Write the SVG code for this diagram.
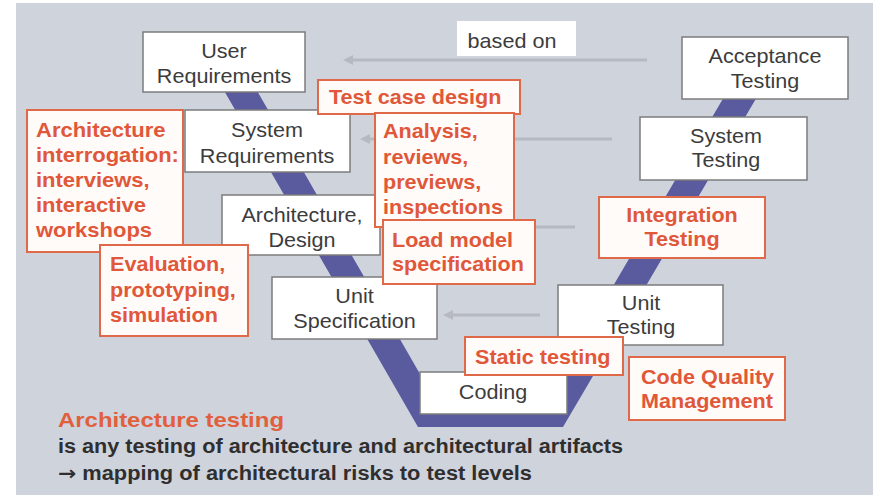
<svg xmlns="http://www.w3.org/2000/svg" width="873" height="495" viewBox="0 0 873 495">
<style>
.node rect{fill:#ffffff;stroke:#7c7c7c;stroke-width:1.5}
.note rect{fill:#fffbf8;stroke:#e0694a;stroke-width:2}
.n{font-family:"Liberation Sans",Arial,sans-serif;font-size:20px;fill:#3c3c3c;text-anchor:middle}
.a{font-family:"Liberation Sans",Arial,sans-serif;font-size:20px;font-weight:bold;fill:#e0573a}
.ac{text-anchor:middle}
.t{font-family:"Liberation Sans",Arial,sans-serif;font-weight:bold}
.conn path{fill:none;stroke:#b6b9c2;stroke-width:3}
</style>
<defs>
<marker id="arr" viewBox="0 0 10 10" refX="2" refY="5" markerWidth="10" markerHeight="10" markerUnits="userSpaceOnUse" orient="auto">
<path d="M0,0 L10,5 L0,10 z" fill="#b6b9c2"/>
</marker>
</defs>
<rect x="0" y="0" width="873" height="495" fill="#ffffff"/>
<rect x="16" y="3" width="857" height="492" fill="#cfd3dc"/>
<polygon id="v-band" points="215,75 248,75 443,414 538,414 731,85 764,85 563,427 418,427" fill="#5a5a9e"/>
<g id="connectors" class="conn">
<path d="M647,60 H351" marker-end="url(#arr)"/>
<path d="M612,139 H368" marker-end="url(#arr)"/>
<path d="M575,227 H392" marker-end="url(#arr)"/>
<path d="M540,315 H451" marker-end="url(#arr)"/>
</g>
<g id="based-on">
<rect x="457" y="21" width="119" height="35" fill="#ffffff"/>
<text class="n" transform="matrix(1.08 0 0 1 512 0)"><tspan x="0" y="48">based on</tspan></text>
</g>
<g id="user-requirements" class="node">
<rect x="143" y="32" width="162" height="60"/>
<text class="n" transform="matrix(1.08 0 0 1 224 0)"><tspan x="0" y="58">User</tspan><tspan x="0" y="83">Requirements</tspan></text>
</g>
<g id="system-requirements" class="node">
<rect x="185" y="110" width="165" height="62"/>
<text class="n" transform="matrix(1.08 0 0 1 267 0)"><tspan x="0" y="137">System</tspan><tspan x="0" y="163">Requirements</tspan></text>
</g>
<g id="architecture-design" class="node">
<rect x="222" y="195" width="158" height="60"/>
<text class="n" transform="matrix(1.08 0 0 1 302 0)"><tspan x="0" y="222">Architecture,</tspan><tspan x="0" y="247">Design</tspan></text>
</g>
<g id="unit-specification" class="node">
<rect x="272" y="277" width="165" height="62"/>
<text class="n" transform="matrix(1.08 0 0 1 354.5 0)"><tspan x="0" y="303">Unit</tspan><tspan x="0" y="328">Specification</tspan></text>
</g>
<g id="coding" class="node">
<rect x="420" y="372" width="147" height="42"/>
<text class="n" transform="matrix(1.08 0 0 1 493 0)"><tspan x="0" y="399">Coding</tspan></text>
</g>
<g id="acceptance-testing" class="node">
<rect x="682" y="37" width="166" height="62"/>
<text class="n" transform="matrix(1.08 0 0 1 765 0)"><tspan x="0" y="63">Acceptance</tspan><tspan x="0" y="88">Testing</tspan></text>
</g>
<g id="system-testing" class="node">
<rect x="640" y="117" width="167" height="63"/>
<text class="n" transform="matrix(1.08 0 0 1 726 0)"><tspan x="0" y="143">System</tspan><tspan x="0" y="167">Testing</tspan></text>
</g>
<g id="unit-testing" class="node">
<rect x="558" y="285" width="165" height="60"/>
<text class="n" transform="matrix(1.08 0 0 1 641 0)"><tspan x="0" y="310">Unit</tspan><tspan x="0" y="334">Testing</tspan></text>
</g>
<g id="test-case-design" class="note">
<rect x="318" y="80" width="202" height="34"/>
<text class="a" transform="matrix(1.08 0 0 1 329 0)"><tspan x="0" y="104">Test case design</tspan></text>
</g>
<g id="architecture-interrogation" class="note">
<rect x="27" y="110" width="156" height="142"/>
<text class="a" transform="matrix(1.1 0 0 1 36 0)"><tspan x="0" y="137">Architecture</tspan><tspan x="0" y="162">interrogation:</tspan><tspan x="0" y="187">interviews,</tspan><tspan x="0" y="212">interactive</tspan><tspan x="0" y="237">workshops</tspan></text>
</g>
<g id="analysis-reviews" class="note">
<rect x="375" y="113" width="139" height="114"/>
<text class="a" transform="matrix(1.08 0 0 1 383 0)"><tspan x="0" y="138">Analysis,</tspan><tspan x="0" y="164">reviews,</tspan><tspan x="0" y="189">previews,</tspan><tspan x="0" y="214">inspections</tspan></text>
</g>
<g id="load-model-specification" class="note">
<rect x="383" y="220" width="152" height="64"/>
<text class="a" transform="matrix(1.08 0 0 1 392 0)"><tspan x="0" y="247">Load model</tspan><tspan x="0" y="271">specification</tspan></text>
</g>
<g id="evaluation-prototyping" class="note">
<rect x="100" y="245" width="148" height="91"/>
<text class="a" transform="matrix(1.08 0 0 1 110 0)"><tspan x="0" y="271">Evaluation,</tspan><tspan x="0" y="297">prototyping,</tspan><tspan x="0" y="322">simulation</tspan></text>
</g>
<g id="integration-testing" class="note">
<rect x="599" y="197" width="166" height="61"/>
<text class="a ac" transform="matrix(1.08 0 0 1 682 0)"><tspan x="0" y="222">Integration</tspan><tspan x="0" y="246">Testing</tspan></text>
</g>
<g id="static-testing" class="note">
<rect x="465" y="337" width="158" height="38"/>
<text class="a" transform="matrix(1.08 0 0 1 475 0)"><tspan x="0" y="364">Static testing</tspan></text>
</g>
<g id="code-quality-management" class="note">
<rect x="629" y="357" width="156" height="63"/>
<text class="a" transform="matrix(1.08 0 0 1 641 0)"><tspan x="0" y="384">Code Quality</tspan><tspan x="0" y="408">Management</tspan></text>
</g>
<g id="caption">
<text class="t" x="58" y="427" font-size="21" fill="#e0603e" textLength="226" lengthAdjust="spacingAndGlyphs">Architecture testing</text>
<text class="t" x="58" y="453" font-size="19.5" fill="#2f2f2f" textLength="565" lengthAdjust="spacingAndGlyphs">is any testing of architecture and architectural artifacts</text>
<text class="t" x="58" y="480" font-size="19.5" fill="#2f2f2f" textLength="474" lengthAdjust="spacingAndGlyphs"><tspan font-family="'DejaVu Sans',sans-serif">→</tspan> mapping of architectural risks to test levels</text>
</g>
</svg>
